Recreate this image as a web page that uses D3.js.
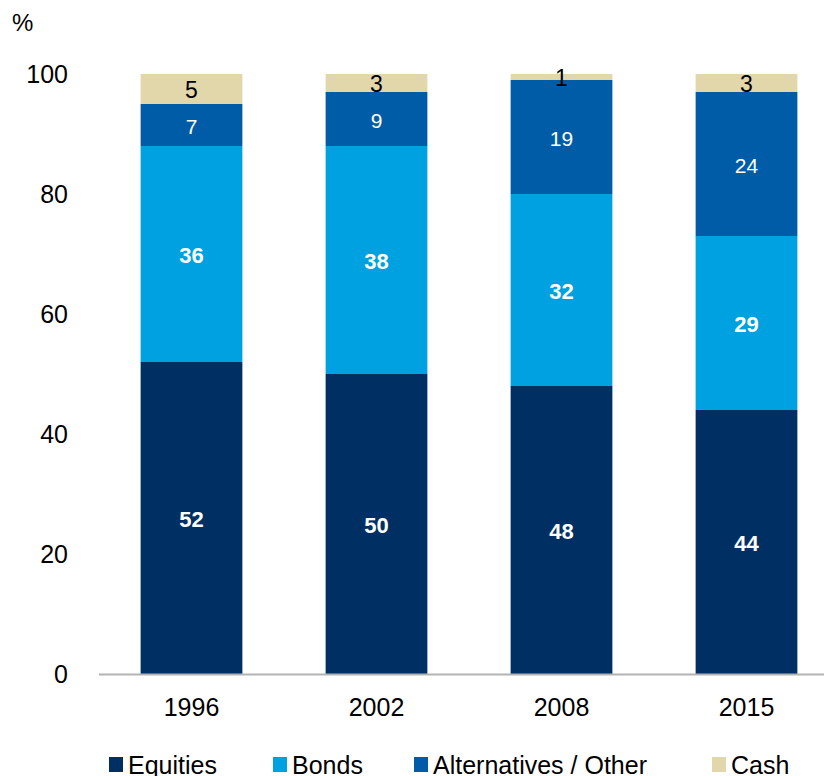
<!DOCTYPE html>
<html>
<head>
<meta charset="utf-8">
<script src="https://cdn.jsdelivr.net/npm/d3@7"></script>
<style>
  html, body { margin: 0; padding: 0; background: #fff; }
  svg { display: block; font-family: "Liberation Sans", Arial, sans-serif; }
</style>
</head>
<body>
<svg id="chart" width="824" height="776"></svg>
<script>
// Asset allocation by year (%)
const years = ["1996", "2002", "2008", "2015"];
const seriesNames = ["Equities", "Bonds", "Alternatives / Other", "Cash"];
const equities = [52, 50, 48, 44];
const bonds = [36, 38, 32, 29];
const alternatives = [7, 9, 19, 24];
const cash = [5, 3, 1, 3];
const yTicks = [0, 20, 40, 60, 80, 100];

const colors = ["#003063", "#00A1E0", "#005CA6", "#E2D6AB"];
const labelStyles = [
  { fill: "#fff", weight: "bold", size: 22 },
  { fill: "#fff", weight: "bold", size: 22 },
  { fill: "#fff", weight: "normal", size: 21 },
  { fill: "#000", weight: "normal", size: 23 }
];

const svg = d3.select("#chart");

const rows = years.map((y, i) => ({
  year: y,
  "Equities": equities[i],
  "Bonds": bonds[i],
  "Alternatives / Other": alternatives[i],
  "Cash": cash[i]
}));
const stacked = d3.stack().keys(seriesNames)(rows);

const x = d3.scaleBand().domain(years).range([99, 839]).paddingInner(0.45).paddingOuter(0.225);
const y = d3.scaleLinear().domain([0, 100]).range([674, 74]);

// y tick labels
svg.append("g").selectAll("text").data(yTicks).join("text")
  .attr("x", 68).attr("y", d => y(d))
  .attr("text-anchor", "end").attr("dominant-baseline", "central")
  .attr("font-size", 25).attr("fill", "#000")
  .text(d => d);

svg.append("text").attr("x", 12).attr("y", 31)
  .attr("font-size", 24).attr("fill", "#000").text("%");

// bars
const layers = svg.append("g").selectAll("g").data(stacked).join("g")
  .attr("fill", (d, i) => colors[i]);
layers.selectAll("rect").data(d => d).join("rect")
  .attr("x", d => x(d.data.year))
  .attr("width", x.bandwidth())
  .attr("y", d => y(d[1]))
  .attr("height", d => y(d[0]) - y(d[1]));

// value labels
stacked.forEach((layer, li) => {
  const st = labelStyles[li];
  svg.append("g").selectAll("text").data(layer).join("text")
    .attr("x", d => x(d.data.year) + x.bandwidth() / 2)
    .attr("y", d => y((d[0] + d[1]) / 2) + 1)
    .attr("text-anchor", "middle").attr("dominant-baseline", "central")
    .attr("font-size", st.size).attr("font-weight", st.weight).attr("fill", st.fill)
    .text(d => d[1] - d[0]);
});

// baseline
svg.append("line").attr("x1", 99).attr("x2", 824)
  .attr("y1", y(0) + 0.5).attr("y2", y(0) + 0.5)
  .attr("stroke", "#b3b3b3").attr("stroke-width", 2);

// x labels
svg.append("g").selectAll("text").data(years).join("text")
  .attr("x", d => x(d) + x.bandwidth() / 2).attr("y", 707)
  .attr("text-anchor", "middle").attr("dominant-baseline", "central")
  .attr("font-size", 25).attr("fill", "#000")
  .text(d => d);

// legend
const legendX = [109, 273, 414, 712];
const lg = svg.append("g").selectAll("g").data(seriesNames).join("g")
  .attr("transform", (d, i) => `translate(${legendX[i]},0)`);
lg.append("rect").attr("x", 0).attr("y", 757).attr("width", 14).attr("height", 15)
  .attr("fill", (d, i) => colors[i]);
lg.append("text").attr("x", 19).attr("y", 765)
  .attr("dominant-baseline", "central").attr("font-size", 25).attr("fill", "#000")
  .text(d => d);
</script>
</body>
</html>
